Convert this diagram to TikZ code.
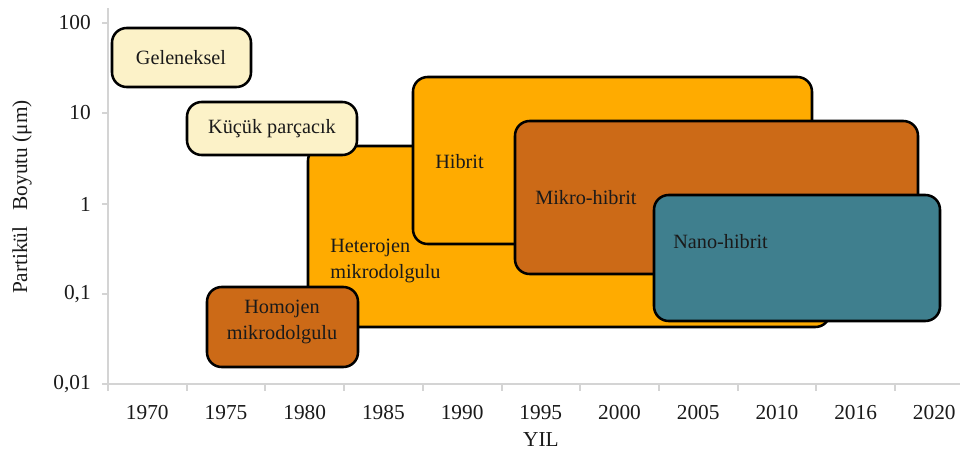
\documentclass[tikz,border=0pt]{standalone}
\usepackage{fontspec}
\setmainfont{Liberation Serif}
\usetikzlibrary{fit}
\definecolor{cream}{HTML}{FCF2C8}
\definecolor{amber}{HTML}{FFAB00}
\definecolor{rust}{HTML}{CC6A17}
\definecolor{teal}{HTML}{3F7F8E}
\definecolor{axisgray}{HTML}{D4D4D4}
\definecolor{txt}{HTML}{1A1A1A}
\begin{document}
\begin{tikzpicture}[x=0.75pt,y=-0.75pt,
  box/.style={draw=black,line width=1.9pt,rounded corners=11pt,inner sep=0pt},
  lbl/.style={font=\fontsize{15.2}{18.5}\selectfont,text=txt,inner sep=0pt},
  tick/.style={font=\fontsize{16}{19}\selectfont,text=txt,inner sep=0pt},
  axis/.style={draw=axisgray,line width=1.5pt}]
\useasboundingbox (0,0) rectangle (960,457);
% axes
\coordinate (ytop) at (108,8);
\coordinate (orig) at (108,384);
\coordinate (xend) at (960,384);
\draw[axis] (ytop) -- (orig) -- (xend);
\foreach \y/\t [count=\i] in {23/100,113/10,204/1,294/{0,1},384/{0,01}} {
  \coordinate (yt\i) at (108,\y);
  \coordinate (ys\i) at (102,\y);
  \draw[axis] (ys\i) -- (yt\i);
  \node[tick,anchor=east] (yl\i) at (91,\y) {\t};
}
\foreach \k in {0,...,11} {
  \coordinate (xt\k) at ({108+78.7*\k},384);
  \coordinate (xs\k) at ({108+78.7*\k},391);
  \draw[axis] (xt\k) -- (xs\k);
}
\foreach \t [count=\k from 0] in {1970,1975,1980,1985,1990,1995,2000,2005,2010,2016,2020} {
  \node[tick] (xl\k) at ({147.3+78.7*\k},413) {\t};
}
\node[tick] (xtitle) at (541,440) {YIL};
\node[tick,rotate=90] (ytitle) at (22,197) {Partikül\hspace{0.5em} Boyutu (μm)};
% boxes
\node[box,fill=amber,fit={(308,146)(830,327)}] (het) {};
\node[box,fill=amber,fit={(413,77)(812,244)}] (hib) {};
\node[box,fill=rust,fit={(515,121)(918,274)}] (mik) {};
\node[box,fill=teal,fit={(654,195)(940,321)}] (nan) {};
\node[box,fill=rust,fit={(207,287)(358,367)}] (hom) {};
\node[box,fill=cream,fit={(112,28)(251,87)}] (gel) {};
\node[box,fill=cream,fit={(187,102)(357,155)}] (kuc) {};
% labels
\node[lbl] (tgel) at (181,58) {Geleneksel};
\node[lbl] (tkuc) at (272,129) {Küçük parçacık};
\node[lbl,anchor=west,align=left] (thet) at (330,261) {Heterojen\\[1pt]mikrodolgulu};
\node[lbl,align=center] (thom) at (282,322) {Homojen\\[1pt]mikrodolgulu};
\node[lbl,anchor=west] (thib) at (435,162) {Hibrit};
\node[lbl,anchor=west] (tmik) at (535,198) {Mikro-hibrit};
\node[lbl,anchor=west] (tnan) at (673,242) {Nano-hibrit};
\end{tikzpicture}
\end{document}
